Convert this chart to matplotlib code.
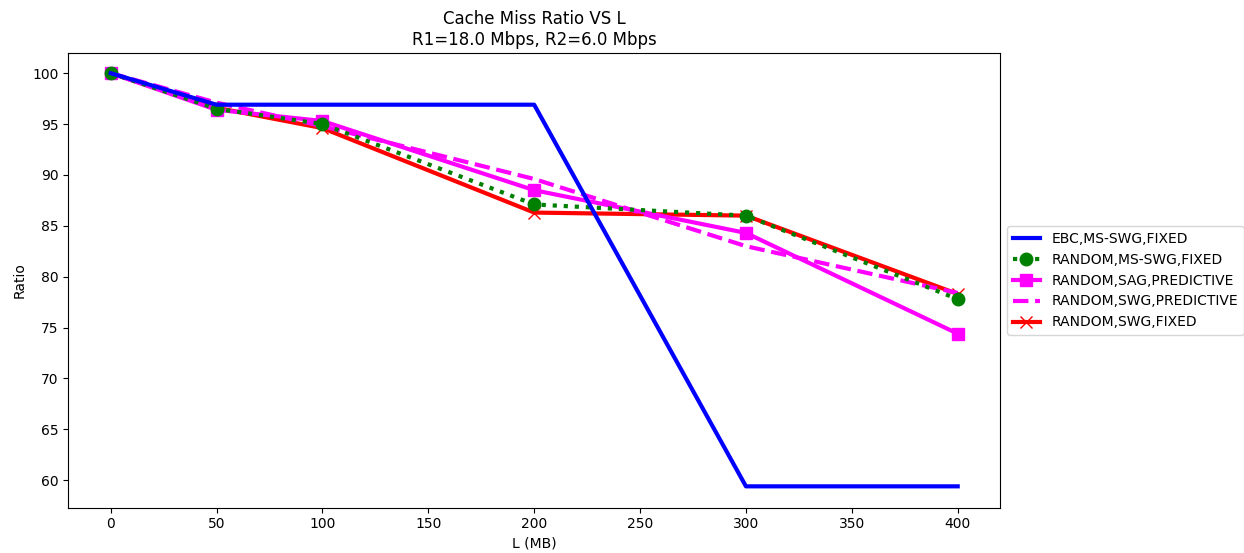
import matplotlib
matplotlib.use("Agg")
import matplotlib.pyplot as plt

# Cache size L in MB
L_values = [0, 50, 100, 200, 300, 400]

ebc_ms_swg_fixed = [100.0, 96.9, 96.9, 96.9, 59.4, 59.4]
random_ms_swg_fixed = [100.0, 96.5, 95.0, 87.1, 86.0, 77.8]
random_sag_predictive = [100.0, 96.4, 95.3, 88.5, 84.3, 74.4]
random_swg_predictive = [100.0, 97.1, 94.8, 89.6, 83.0, 78.4]
random_swg_fixed = [100.0, 96.6, 94.6, 86.3, 86.0, 78.3]

labels = [
    "EBC,MS-SWG,FIXED",
    "RANDOM,MS-SWG,FIXED",
    "RANDOM,SAG,PREDICTIVE",
    "RANDOM,SWG,PREDICTIVE",
    "RANDOM,SWG,FIXED",
]

fig = plt.figure(figsize=(12.44, 5.53), dpi=100)
ax = fig.add_axes([0.0549, 0.0819, 0.749, 0.8217])

ax.plot(L_values, ebc_ms_swg_fixed, color="blue", linewidth=3,
        label=labels[0], zorder=6)
ax.plot(L_values, random_ms_swg_fixed, color="green", linestyle=":", linewidth=3,
        marker="o", markersize=9, label=labels[1], zorder=5)
ax.plot(L_values, random_sag_predictive, color="magenta", linewidth=3,
        marker="s", markersize=9, label=labels[2], zorder=4)
ax.plot(L_values, random_swg_predictive, color="magenta", linestyle="--",
        linewidth=3, label=labels[3], zorder=3)
ax.plot(L_values, random_swg_fixed, color="red", linewidth=3,
        marker="x", markersize=8, label=labels[4], zorder=2)

ax.set_title("Cache Miss Ratio VS L\nR1=18.0 Mbps, R2=6.0 Mbps")
ax.set_xlabel("L (MB)")
ax.set_ylabel("Ratio")
ax.set_xticks(range(0, 401, 50))
ax.set_yticks(range(60, 101, 5))
ax.set_xlim(-20, 420)
ax.set_ylim(57.3, 101.95)

ax.legend(loc="center left", bbox_to_anchor=(1.0, 0.5))

fig.savefig("out.png", dpi=100)
